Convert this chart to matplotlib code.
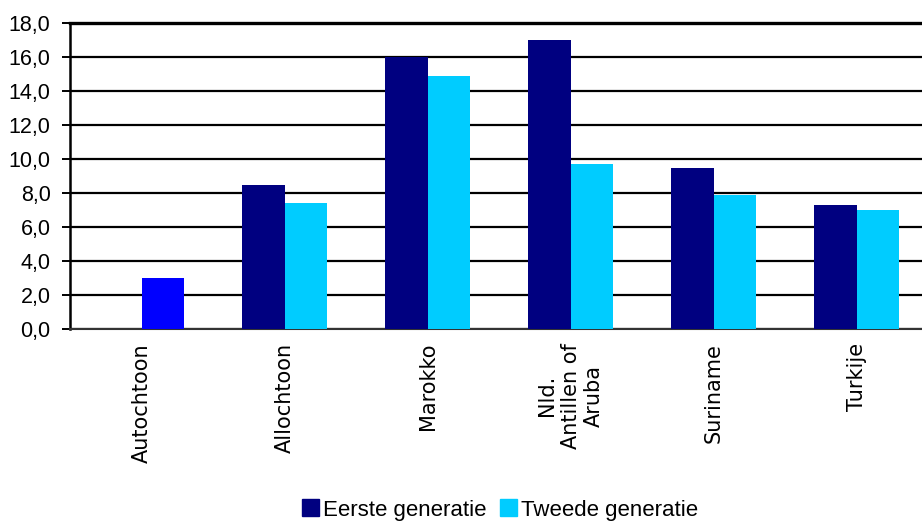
import numpy as np
import matplotlib

matplotlib.use("Agg")
import matplotlib.pyplot as plt
from matplotlib.patches import Patch

# Data
categories = ["Autochtoon", "Allochtoon", "Marokko", "Nld.\nAntillen of\nAruba", "Suriname", "Turkije"]
eerste = [np.nan, 8.5, 16.0, 17.0, 9.5, 7.3]
tweede = [3.0, 7.4, 14.9, 9.7, 7.9, 7.0]
yticks = np.arange(0, 19, 2)

NAVY = "#000080"
CYAN = "#00CCFF"
BLUE = "#0000FF"

plt.rcParams["font.family"] = ["Liberation Sans", "DejaVu Sans"]

fig = plt.figure(figsize=(9.22, 5.22), dpi=100)
ax = fig.add_axes([70 / 922, 1 - 329 / 522, 858 / 922, 306 / 522])

x = np.arange(len(categories))
w = 0.3

# Autochtoon has only one bar, drawn in a different blue
colors_t = [BLUE] + [CYAN] * (len(categories) - 1)
ax.bar(x - w / 2, eerste, width=w, color=NAVY, zorder=3)
ax.bar(x + w / 2, tweede, width=w, color=colors_t, zorder=3)

ax.set_xlim(-0.5, len(categories) - 0.5)
ax.set_ylim(0, 18)
ax.set_yticks(yticks)
ax.set_yticklabels([f"{v:.1f}".replace(".", ",") for v in yticks], fontsize=15.5)
ax.tick_params(axis="y", length=6, width=1.4, pad=8, color="black")

ax.set_xticks(x)
ax.set_xticklabels(categories, rotation=90, fontsize=15, va="top", ha="center",
                   multialignment="center", family="DejaVu Sans")
ax.tick_params(axis="x", length=0, pad=10)

ax.grid(axis="y", color="black", linewidth=1.6, zorder=1)
ax.set_axisbelow(True)
for s in ["right", "top"]:
    ax.spines[s].set_visible(False)
ax.spines["left"].set_linewidth(1.8)
ax.spines["bottom"].set_linewidth(1.5)
ax.spines["bottom"].set_color("#333333")
ax.axhline(18, color="black", linewidth=2.4, zorder=2, clip_on=False)

handles = [Patch(color=NAVY, label="Eerste generatie"),
           Patch(color=CYAN, label="Tweede generatie")]
fig.legend(handles=handles, loc="center", bbox_to_anchor=(500 / 922, 1 - 510 / 522),
           ncol=2, frameon=False, fontsize=16, handlelength=0.75, handleheight=0.8,
           handletextpad=0.2, columnspacing=0.6, borderpad=0)

fig.savefig("out.png", dpi=100)
